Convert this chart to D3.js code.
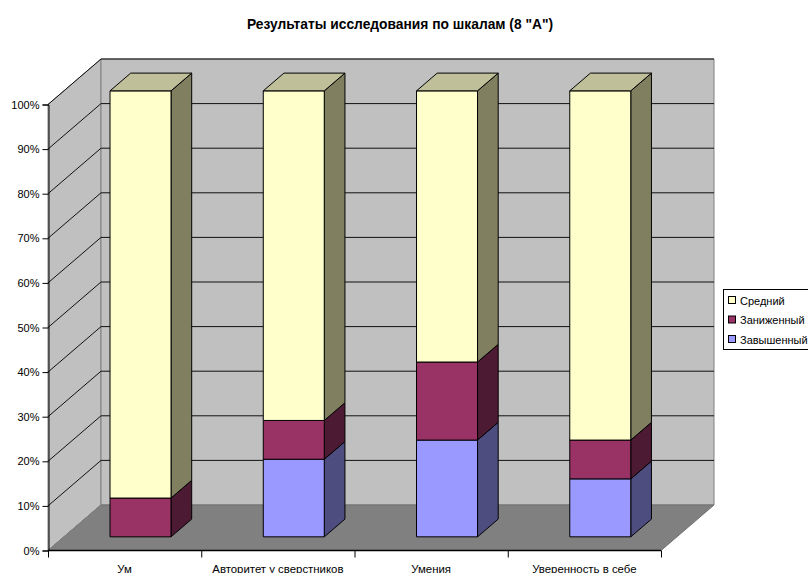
<!DOCTYPE html>
<html><head><meta charset="utf-8">
<script src="https://cdn.jsdelivr.net/npm/d3@7"></script>
<style>html,body{margin:0;padding:0;background:#fff;overflow:hidden}svg{display:block}text{font-family:"Liberation Sans",Arial,sans-serif;fill:#000}</style>
</head><body><svg id="c" width="808" height="573"></svg>
<script>
const title = 'Результаты исследования по шкалам (8 "А")';
const categories = ["Ум","Авторитет у сверстников","Умения","Уверенность в себе"];
const seriesNames = ["Завышенный","Заниженный","Средний"];
const overstated = [0,17.4,21.7,13];
const understated = [8.7,8.7,17.5,8.7];
const average = [91.3,73.9,60.8,78.3];
const percentTicks = [0,10,20,30,40,50,60,70,80,90,100];
const frontColors = ["#9999FF","#993366","#FFFFCC"];
const sideColors = ["#4D4D80","#4D1A33","#808060"];
const topColors = ["#7A7ACC","#7A2952","#BFBF99"];

const svg = d3.select("#c");
const x = d3.scaleBand().domain(categories).range([48,661]).paddingInner(0).paddingOuter(0);
const y = d3.scaleLinear().domain([0,100]).range([550.5,104.5]);
// depth projection: 0 = front plane, 1 = back wall
const dx = d3.scaleLinear().domain([0,1]).range([0,53]);
const dy = d3.scaleLinear().domain([0,1]).range([0,-45.5]);
const P = (px,val,d)=>[px+dx(d), y(val)+dy(d)];
const path = pts => "M"+pts.map(p=>p.join(",")).join("L")+"Z";
const xL = 48, xR = 661;

// walls and floor
svg.append("path").attr("d",path([P(xL,100,0),P(xL,100,1),P(xL,0,1),P(xL,0,0)])).attr("fill","#C0C0C0").attr("stroke","#808080");
svg.append("path").attr("d",path([P(xL,100,1),P(xR,100,1),P(xR,0,1),P(xL,0,1)])).attr("fill","#C0C0C0").attr("stroke","#808080");
svg.append("path").attr("d",path([P(xL,0,0),P(xR,0,0),P(xR,0,1),P(xL,0,1)])).attr("fill","#808080").attr("stroke","#707070");

// gridlines
percentTicks.filter(t=>t>0).forEach(t=>{
  svg.append("path").attr("fill","none").attr("stroke","#111").attr("stroke-width",1)
    .attr("d","M"+[P(xL,t,0),P(xL,t,1),P(xR,t,1)].map(p=>p.join(",")).join("L"));
});
svg.append("path").attr("fill","none")
  .attr("d","M"+[P(xL,0,0),P(xL,0,1)].map(p=>p.join(",")).join("L")).attr("stroke","#808080");

// axes
const yAxis = d3.axisLeft(y).tickValues(percentTicks).tickFormat(d=>d+"%").tickSize(6).tickPadding(2);
const ya = svg.append("g").attr("transform","translate(48.5,0)").call(yAxis);
ya.selectAll("text").attr("font-size",11).attr("dx",-1).style("font-family",'"Liberation Sans",Arial,sans-serif');
ya.selectAll("line,path").attr("stroke","#000");
const xa = svg.append("g").attr("transform","translate(0,550.5)");
xa.append("path").attr("d",`M${xL},0H${xR}`).attr("stroke","#000").attr("stroke-width",1.4).attr("fill","none");
const xEdges = categories.map(c=>x(c)).concat([xR]);
xa.selectAll("line").data(xEdges).join("line").attr("x1",d=>d+.5).attr("x2",d=>d+.5).attr("y1",0).attr("y2",7).attr("stroke","#000");
xa.selectAll("text").data(categories).join("text").attr("x",d=>x(d)+x.bandwidth()/2).attr("y",22).attr("text-anchor","middle").attr("font-size",11.4).text(d=>d);

// bars
const barW = 61, dNear = 0.3, dFar = 0.69;
const series = [overstated,understated,average];
categories.forEach((c,i)=>{
  const l = x(c)+(x.bandwidth()-barW)/2, r = l+barW;
  let base = 0;
  series.forEach((vals,s)=>{
    const v = vals[i];
    if(v>0){
      const t = base+v;
      const g = svg.append("g").attr("stroke","#000").attr("stroke-width",1).attr("stroke-linejoin","round");
      g.append("path").attr("d",path([P(r,base,dNear),P(r,base,dFar),P(r,t,dFar),P(r,t,dNear)])).attr("fill",sideColors[s]);
      g.append("path").attr("d",path([P(l,base,dNear),P(r,base,dNear),P(r,t,dNear),P(l,t,dNear)])).attr("fill",frontColors[s]);
      if(s===series.length-1) g.append("path").attr("d",path([P(l,t,dNear),P(r,t,dNear),P(r,t,dFar),P(l,t,dFar)])).attr("fill",topColors[s]);
    }
    base += v;
  });
});

// title
svg.append("text").attr("x",400).attr("y",29).attr("text-anchor","middle").attr("font-size",13.8).attr("font-weight","bold").text(title);

// legend
const lg = svg.append("g");
lg.append("rect").attr("x",723.5).attr("y",289.5).attr("width",90).attr("height",60).attr("fill","#fff").attr("stroke","#000");
const legendOrder = [2,1,0];
const rowY = d3.scalePoint().domain(legendOrder).range([300.5,339.5]);
legendOrder.forEach(s=>{
  lg.append("rect").attr("x",728.5).attr("y",rowY(s)-4).attr("width",7).attr("height",7).attr("fill",frontColors[s]).attr("stroke","#000");
  lg.append("text").attr("x",740).attr("y",rowY(s)+4).attr("font-size",11).text(seriesNames[s]);
});
</script></body></html>
